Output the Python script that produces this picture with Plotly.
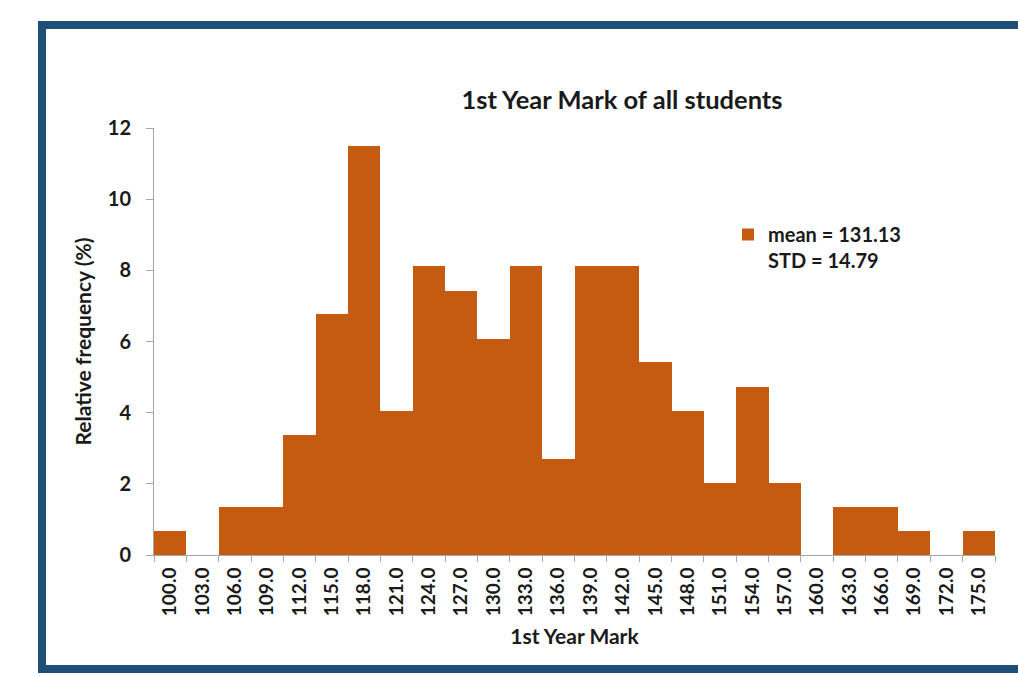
import plotly.graph_objects as go

# Histogram of first-year marks: bin labels (lower bound of each 3-mark bin)
bin_labels = ["100.0", "103.0", "106.0", "109.0", "112.0", "115.0", "118.0",
              "121.0", "124.0", "127.0", "130.0", "133.0", "136.0", "139.0",
              "142.0", "145.0", "148.0", "151.0", "154.0", "157.0", "160.0",
              "163.0", "166.0", "169.0", "172.0", "175.0"]

# Relative frequency (%) per bin
rel_freq = [0.68, 0.0, 1.35, 1.35, 3.38, 6.76, 11.49,
            4.05, 8.11, 7.43, 6.08, 8.11, 2.70, 8.11,
            8.11, 5.41, 4.05, 2.03, 4.73, 2.03, 0.0,
            1.35, 1.35, 0.68, 0.0, 0.68]

y_ticks = [0, 2, 4, 6, 8, 10, 12]

BAR = "#C55A11"
FRAME = "#1F4E79"
FONT = "Lato"
TXT = "#1a1a1a"

fig = go.Figure()
fig.add_trace(go.Bar(
    x=bin_labels,
    y=rel_freq,
    name="mean = 131.13<br>STD = 14.79",
    marker=dict(color=BAR, line=dict(width=0)),
    showlegend=True,
))

W, H = 1018, 676
L, R, T, B = 154, 995, 128, 555
pw, ph = R - L, B - T


def px(x):
    return (x - L) / pw


def py(y):
    return (B - y) / ph


fig.update_layout(
    width=W, height=H,
    margin=dict(l=L, r=W - R, t=T, b=H - B, pad=0),
    paper_bgcolor="white",
    plot_bgcolor="white",
    bargap=0,
    font=dict(family=FONT, color=TXT),
    title=dict(
        text="<b>1st Year Mark of all students</b>",
        x=px(622), xanchor="center", xref="paper",
        y=(H - 100) / H, yanchor="middle",
        font=dict(size=25.5, family=FONT, color=TXT),
    ),
    showlegend=True,
    legend=dict(
        x=px(728), y=py(215), xanchor="left", yanchor="top",
        bgcolor="rgba(0,0,0,0)",
        font=dict(size=20, family=FONT, color=TXT, weight="bold"),
        valign="top",
        itemwidth=30,
    ),
    xaxis=dict(
        type="category",
        tickangle=-90,
        tickson="boundaries",
        ticks="outside",
        ticklen=6,
        tickcolor="#a6a6a6",
        showline=True,
        linecolor="#a6a6a6",
        linewidth=1,
        showgrid=False,
        ticklabelstandoff=4,
        tickfont=dict(size=19, family=FONT, color=TXT, weight="bold"),
        title=dict(text="<b>1st Year Mark</b>", standoff=14,
                   font=dict(size=21, family=FONT, color=TXT)),
    ),
    yaxis=dict(
        range=[0, 12],
        tickvals=y_ticks,
        ticks="outside",
        ticklen=7,
        tickcolor="#a6a6a6",
        showline=True,
        linecolor="#a6a6a6",
        linewidth=1,
        showgrid=False,
        zeroline=False,
        ticklabelstandoff=11,
        tickfont=dict(size=20, family=FONT, color=TXT, weight="bold"),
        title=dict(text="<b>Relative frequency (%)</b>", standoff=10,
                   font=dict(size=21, family=FONT, color=TXT)),
    ),
)

# Dark blue frame around the chart (right side runs past the page edge)
frame_left, frame_top, frame_bottom, frame_right = 42, 25, 669, 1040
fig.add_shape(
    type="rect", xref="paper", yref="paper",
    x0=px(frame_left), x1=px(frame_right),
    y0=py(frame_bottom), y1=py(frame_top),
    line=dict(color=FRAME, width=8),
    fillcolor="rgba(0,0,0,0)",
    layer="above",
)

fig.write_html("out.html")
